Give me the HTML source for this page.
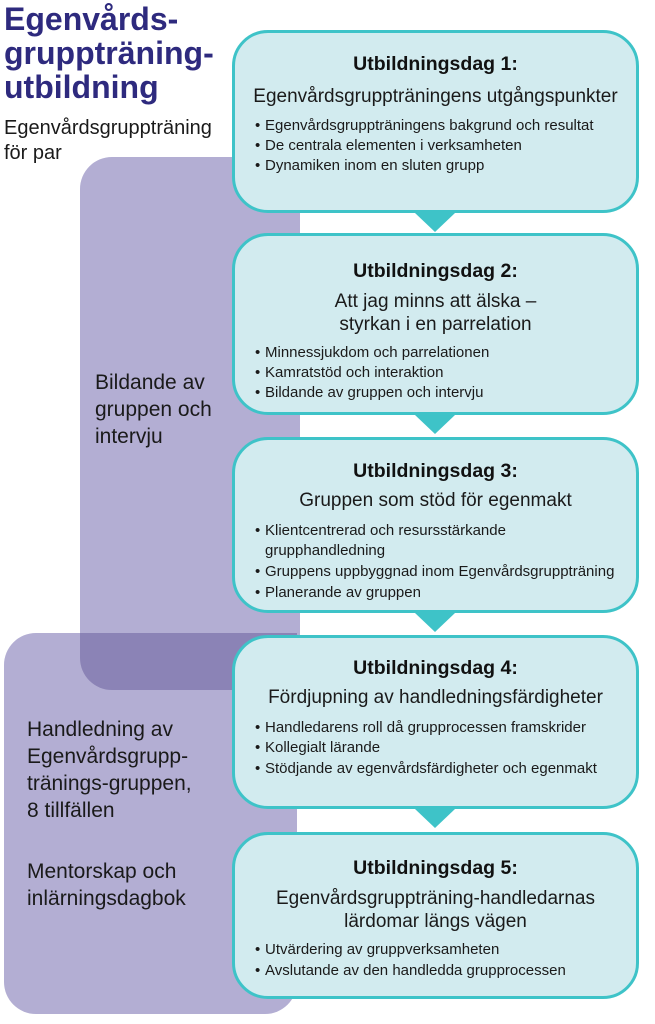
<!DOCTYPE html>
<html><head><meta charset="utf-8"><style>
*{margin:0;padding:0;box-sizing:border-box}
body{width:655px;height:1024px;background:#fff;position:relative;overflow:hidden;font-family:"Liberation Sans",sans-serif;color:#1a1a1a}
.p{position:absolute;background:#b3aed3}
.box{position:absolute;left:232px;width:407px;background:#d2ebef;border:3px solid #3ec3c8;border-radius:36px}
.tri{position:absolute;left:415px;width:0;height:0;border-left:20px solid transparent;border-right:20px solid transparent;border-top:19px solid #3ec3c8}
.t{position:absolute;white-space:nowrap;line-height:20px}
.c{left:232px;width:407px;text-align:center}
.h{font-weight:bold;font-size:19.5px;color:#111}
.s{font-size:19px}
.b{font-size:15px;left:255px}
.b:before{content:"•";position:absolute;left:0}
.b span{position:absolute;left:10px}
.L{font-size:21px;line-height:27px}
</style></head><body>
<div class="p" style="left:80px;top:157px;width:220px;height:533px;border-radius:32px"></div>
<div class="p" style="left:4px;top:633px;width:293px;height:381px;border-radius:32px"></div>
<div style="position:absolute;left:80px;top:633px;width:217px;height:57px;background:#8b83b6;border-radius:0 0 0 32px"></div>

<div class="t" style="left:4px;top:2px;font-size:32px;line-height:34px;font-weight:bold;color:#2e2a7e">Egenvårds-<br>gruppträning-<br>utbildning</div>
<div class="t" style="left:4px;top:116px;font-size:20px;line-height:25px">Egenvårdsgruppträning<br>för par</div>

<div class="t L" style="left:95px;top:369px">Bildande av<br>gruppen och<br>intervju</div>
<div class="t L" style="left:27px;top:716px">Handledning av<br>Egenvårdsgrupp-<br>tränings-gruppen,<br>8 tillfällen</div>
<div class="t L" style="left:27px;top:858px">Mentorskap och<br>inlärningsdagbok</div>

<div class="box" style="top:30px;height:183px"></div>
<div class="tri" style="top:213px"></div>
<div class="box" style="top:233px;height:182px"></div>
<div class="tri" style="top:415px"></div>
<div class="box" style="top:437px;height:176px"></div>
<div class="tri" style="top:613px"></div>
<div class="box" style="top:635px;height:174px"></div>
<div class="tri" style="top:809px"></div>
<div class="box" style="top:832px;height:167px"></div>

<div class="t c h" style="top:54px">Utbildningsdag 1:</div>
<div class="t c s" style="top:87px">Egenvårdsgruppträningens utgångspunkter</div>
<div class="t b" style="top:116px"><span>Egenvårdsgruppträningens bakgrund och resultat</span></div>
<div class="t b" style="top:136px"><span>De centrala elementen i verksamheten</span></div>
<div class="t b" style="top:156px"><span>Dynamiken inom en sluten grupp</span></div>

<div class="t c h" style="top:261px">Utbildningsdag 2:</div>
<div class="t c s" style="top:290px;line-height:23px">Att jag minns att älska –<br>styrkan i en parrelation</div>
<div class="t b" style="top:343px"><span>Minnessjukdom och parrelationen</span></div>
<div class="t b" style="top:363px"><span>Kamratstöd och interaktion</span></div>
<div class="t b" style="top:383px"><span>Bildande av gruppen och intervju</span></div>

<div class="t c h" style="top:461px">Utbildningsdag 3:</div>
<div class="t c s" style="top:491px">Gruppen som stöd för egenmakt</div>
<div class="t b" style="top:521px"><span>Klientcentrerad och resursstärkande<br>grupphandledning</span></div>
<div class="t b" style="top:562px"><span>Gruppens uppbyggnad inom Egenvårdsgruppträning</span></div>
<div class="t b" style="top:583px"><span>Planerande av gruppen</span></div>

<div class="t c h" style="top:658px">Utbildningsdag 4:</div>
<div class="t c s" style="top:688px">Fördjupning av handledningsfärdigheter</div>
<div class="t b" style="top:718px"><span>Handledarens roll då grupprocessen framskrider</span></div>
<div class="t b" style="top:738px"><span>Kollegialt lärande</span></div>
<div class="t b" style="top:759px"><span>Stödjande av egenvårdsfärdigheter och egenmakt</span></div>

<div class="t c h" style="top:858px">Utbildningsdag 5:</div>
<div class="t c s" style="top:887px;line-height:23px">Egenvårdsgruppträning-handledarnas<br>lärdomar längs vägen</div>
<div class="t b" style="top:940px"><span>Utvärdering av gruppverksamheten</span></div>
<div class="t b" style="top:961px"><span>Avslutande av den handledda grupprocessen</span></div>
</body></html>
